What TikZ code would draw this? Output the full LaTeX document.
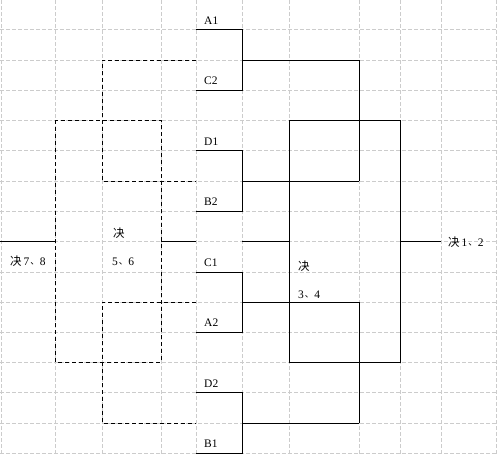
\documentclass[tikz,border=0pt]{standalone}
\usepackage{fontspec}
\setmainfont{Liberation Serif}
\newfontfamily\cjk{Noto Sans CJK SC}
\newcommand{\dun}{\hspace{1pt}\raisebox{1pt}{\cjk\fontsize{9pt}{9pt}\selectfont 、}\hspace{0.5pt}}
\begin{document}
\begin{tikzpicture}[x=1pt,y=-1pt,
  gridline/.style={draw=black!20,line width=0.9pt,dash pattern=on 4pt off 2pt},
  solidline/.style={draw=black,line width=1pt},
  dashline/.style={draw=black,line width=1pt,dash pattern=on 4pt off 3pt},
  lbl/.style={anchor=base west,inner sep=0pt,font=\fontsize{11.5pt}{13pt}\selectfont}]
\useasboundingbox (0,0) rectangle (497,455);
\fill[white] (0,0) rectangle (497,455);
% grid
\foreach \x in {1,55,102,161,196,242,289,359,400,441,496}
  \draw[gridline] (\x,0) -- (\x,455);
\foreach \y in {29,60,90,120,150,181,211,241,272,302,332,362,392,423,453}
  \draw[gridline] (0,\y) -- (497,\y);
% coordinates
\coordinate (l0) at (0,241);
\coordinate (l1) at (55,241);
\coordinate (m0) at (161,241);
\coordinate (m1) at (196,241);
\coordinate (s0) at (242,241);
\coordinate (s1) at (289,241);
\coordinate (f0) at (400,241);
\coordinate (f1) at (441,241);
% solid brackets (first round)
\draw[solidline] (196,29) -- (242,29) -- (242,90) -- (196,90);
\draw[solidline] (242,60) -- (359,60);
\draw[solidline] (196,150) -- (242,150) -- (242,211) -- (196,211);
\draw[solidline] (242,181) -- (359,181);
\draw[solidline] (359,60) -- (359,181);
\draw[solidline] (196,272) -- (242,272) -- (242,332) -- (196,332);
\draw[solidline] (242,302) -- (359,302);
\draw[solidline] (196,392) -- (242,392) -- (242,453) -- (196,453);
\draw[solidline] (242,423) -- (359,423);
\draw[solidline] (359,302) -- (359,423);
% semifinal/final box
\draw[solidline] (289,120) rectangle (400,362);
\draw[solidline] (s0) -- (s1);
\draw[solidline] (f0) -- (f1);
\draw[solidline] (m0) -- (m1);
\draw[solidline] (l0) -- (l1);
% dashed brackets (losers)
\draw[dashline] (196,60) -- (102,60) -- (102,181) -- (196,181);
\draw[dashline] (55,120) rectangle (161,362);
\draw[dashline] (196,302) -- (102,302) -- (102,423) -- (196,423);
% labels
\node[lbl] (a1) at (204,24.5) {A1};
\node[lbl] (c2) at (204,84.5) {C2};
\node[lbl] (d1) at (204,145) {D1};
\node[lbl] (b2) at (204,205.5) {B2};
\node[lbl] (c1) at (204,266) {C1};
\node[lbl] (a2) at (204,326.5) {A2};
\node[lbl] (d2) at (204,387) {D2};
\node[lbl] (b1) at (204,447.5) {B1};
\node[lbl] (j78) at (10,265) {{\cjk 决}\hspace{2pt}7\dun 8};
\node[lbl] (j56a) at (113,237) {\cjk 决};
\node[lbl] (j56b) at (112,265) {5\dun 6};
\node[lbl] (j34a) at (298,270) {\cjk 决};
\node[lbl] (j34b) at (298,298) {3\dun 4};
\node[lbl] (j12) at (448,246) {{\cjk 决}\hspace{2pt}1\dun 2};
\end{tikzpicture}
\end{document}
